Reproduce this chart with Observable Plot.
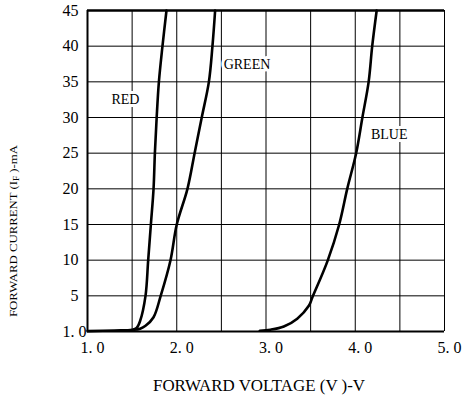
<!DOCTYPE html>
<html><head><meta charset="utf-8">
<script src="https://cdn.jsdelivr.net/npm/d3@7"></script>
<script src="https://cdn.jsdelivr.net/npm/@observablehq/plot@0.6"></script>
<style>body{margin:0;background:#fff;} svg{display:block}</style>
</head><body><div id="chart"></div>
<script>
// Tick values and labels
const voltTicks = [1, 2, 3, 4, 5];
const voltTickLabels = ["1. 0", "2. 0", "3. 0", "4. 0", "5. 0"];
const currentTicks = [5, 10, 15, 20, 25, 30, 35, 40, 45];
const gridVolt = [1.5, 2, 2.5, 3, 3.5, 4, 4.5];
const gridCurrent = [5, 10, 15, 20, 25, 30, 35, 40];

// Series (forward voltage V, forward current mA)
const redV = [1.0, 1.3, 1.5, 1.55, 1.59, 1.65, 1.68, 1.71, 1.74, 1.755, 1.775, 1.80, 1.84, 1.885];
const redI = [0.05, 0.15, 0.25, 0.5, 1.5, 5, 10, 15, 20, 25, 30, 35, 40, 45];
const greenV = [1.52, 1.59, 1.65, 1.74, 1.82, 1.93, 2.00, 2.12, 2.20, 2.28, 2.36, 2.40, 2.43];
const greenI = [0.25, 0.4, 0.8, 2.0, 5, 10, 15, 20, 25, 30, 35, 40, 45];
const blueV = [2.93, 3.05, 3.20, 3.35, 3.48, 3.52, 3.69, 3.82, 3.91, 4.01, 4.08, 4.15, 4.19, 4.24];
const blueI = [0.1, 0.25, 0.7, 1.8, 3.6, 4.8, 9.9, 15, 20, 25, 30, 35, 40, 45];

// Curve labels
const labelNames = ["RED", "GREEN", "BLUE"];
const labelV = [1.425, 2.787, 4.38];
const labelI = [32.5, 37.4, 27.6];

const series = [
  {name: "RED", v: redV, i: redI},
  {name: "GREEN", v: greenV, i: greenI},
  {name: "BLUE", v: blueV, i: blueI}
];
const rows = series.flatMap(s => s.v.map((v, k) => ({name: s.name, v, i: s.i[k]})));
const labels = labelNames.map((n, k) => ({name: n, v: labelV[k], i: labelI[k]}));

const font = "'Liberation Serif', 'DejaVu Serif', serif";

const chart = Plot.plot({
  width: 464, height: 405,
  marginLeft: 87, marginRight: 20, marginTop: 10, marginBottom: 74,
  style: {fontFamily: font, fontSize: "16px", background: "#fff", color: "#000"},
  x: {domain: [1, 5]},
  y: {domain: [0, 45]},
  marks: [
    Plot.ruleX(gridVolt, {stroke: "#000", strokeWidth: 1}),
    Plot.ruleY(gridCurrent, {stroke: "#000", strokeWidth: 1}),
    Plot.ruleX([5], {stroke: "#000", strokeWidth: 1}),
    Plot.ruleX([1], {stroke: "#000", strokeWidth: 2}),
    Plot.ruleY([0], {stroke: "#000", strokeWidth: 2}),
    Plot.ruleY([45], {stroke: "#000", strokeWidth: 2.5}),
    Plot.line(rows, {x: "v", y: "i", z: "name", stroke: "#000", strokeWidth: 2.6, curve: "catmull-rom"}),
    Plot.text(labels, {x: "v", y: "i", text: "name", fontSize: 14, fill: "#000", stroke: "#fff", strokeWidth: 6, paintOrder: "stroke"}),
    Plot.axisX(voltTicks, {tickSize: 0, tickPadding: 10, dx: 5, label: null,
      tickFormat: d => voltTickLabels[voltTicks.indexOf(d)]}),
    Plot.axisY(currentTicks, {tickSize: 0, tickPadding: 9, label: null}),
    Plot.axisY([0], {tickSize: 0, tickPadding: 1, label: null, tickFormat: () => "1. 0"})
  ]
});
document.getElementById("chart").appendChild(chart);

const svg = d3.select(chart);
// X axis title
svg.append("text")
  .attr("x", 259).attr("y", 391)
  .attr("text-anchor", "middle")
  .attr("font-family", font).attr("font-size", 17)
  .attr("textLength", 212).attr("lengthAdjust", "spacingAndGlyphs")
  .attr("fill", "#000")
  .text("FORWARD VOLTAGE (V )-V");
// Y axis title with subscript
const yt = svg.append("text")
  .attr("transform", "translate(17,231) rotate(-90)")
  .attr("text-anchor", "middle")
  .attr("font-family", font).attr("font-size", 11)
  .attr("textLength", 172).attr("lengthAdjust", "spacingAndGlyphs")
  .attr("fill", "#000");
yt.append("tspan").text("FORWARD CURRENT (I");
yt.append("tspan").attr("font-size", 8).attr("dy", 2).text("F");
yt.append("tspan").attr("dy", -2).text(" )-mA");
</script>
</body></html>
